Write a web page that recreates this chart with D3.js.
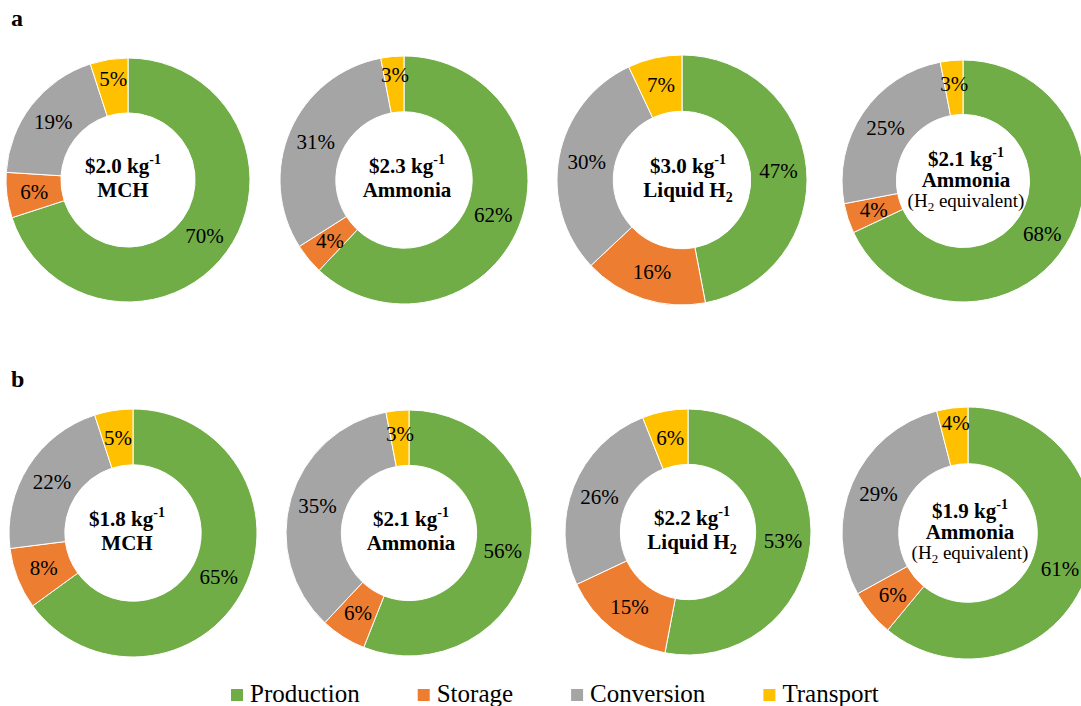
<!DOCTYPE html>
<html>
<head>
<meta charset="utf-8">
<script src="https://cdn.jsdelivr.net/npm/d3@7"></script>
<style>
  html, body { margin: 0; padding: 0; background: #fff; }
  svg { display: block; }
</style>
</head>
<body>
<svg id="chart" width="1081" height="706"></svg>
<script>
// ---- data ----
const categories = ["Production", "Storage", "Conversion", "Transport"];
const panelLabels = ["a", "b"];
const carriers = ["MCH", "Ammonia", "Liquid H2", "Ammonia"];
const costsA = ["$2.0", "$2.3", "$3.0", "$2.1"];
const costsB = ["$1.8", "$2.1", "$2.2", "$1.9"];
const sharesA = [
  [70, 6, 19, 5],
  [62, 4, 31, 3],
  [47, 16, 30, 7],
  [68, 4, 25, 3]
];
const sharesB = [
  [65, 8, 22, 5],
  [56, 6, 35, 3],
  [53, 15, 26, 6],
  [61, 6, 29, 4]
];

// ---- layout / style ----
const FONT = "Liberation Serif";
const colors = d3.scaleOrdinal().domain(categories)
  .range(["#70AD47", "#ED7D31", "#A5A5A5", "#FFC000"]);
const geomA = [
  {cx: 128, cy: 180, r: 122, tdx: -5, nudge: [0, 0, 0, -8]},
  {cx: 404, cy: 180, r: 124, tdx: 3, nudge: [0, 0, 0, -9]},
  {cx: 682, cy: 180, r: 125, tdx: 6, nudge: [0, 0, 0, 0]},
  {cx: 963, cy: 181, r: 121, tdx: 3, nudge: [3, 0, 0, -4]}
];
const geomB = [
  {cx: 133, cy: 533, r: 124, tdx: -6, nudge: [0, 0, 0, 0]},
  {cx: 409, cy: 533, r: 123, tdx: 2, nudge: [0, 0, 0, -4]},
  {cx: 688, cy: 532, r: 123, tdx: 4, nudge: [0, 0, 0, 0]},
  {cx: 968, cy: 533, r: 126, tdx: 2, nudge: [3, 0, 0, -13]}
];
const innerRatio = 0.55;

const svg = d3.select("#chart");

const pie = d3.pie().sort(null).value(d => d.v);

function drawDonut(shares, cost, carrier, g, isEquiv) {
  const data = shares.map((v, i) => ({cat: categories[i], v}));
  const arc = d3.arc().innerRadius(g.r * innerRatio).outerRadius(g.r);
  const grp = svg.append("g").attr("transform", `translate(${g.cx},${g.cy})`);
  const arcs = pie(data);
  grp.selectAll("path").data(arcs).join("path")
    .attr("d", arc)
    .attr("fill", d => colors(d.data.cat))
    .attr("stroke", "#fff")
    .attr("stroke-width", 1);
  grp.selectAll("text.lbl").data(arcs).join("text")
    .attr("class", "lbl")
    .attr("font-family", FONT)
    .attr("x", d => arc.centroid(d)[0])
    .attr("y", (d, i) => arc.centroid(d)[1] + g.nudge[i] + 7)
    .attr("text-anchor", "middle")
    .attr("font-size", 21)
    .attr("fill", "#000")
    .text(d => d.data.v + "%");

  // center text as one text element with line tspans
  const y1 = isEquiv ? -15 : -7;
  const y2 = isEquiv ? 6 : 17;
  const ct = grp.append("text")
    .attr("font-family", FONT)
    .attr("fill", "#000")
    .attr("text-anchor", "middle")
    .attr("font-size", 21)
    .attr("font-weight", "bold");
  ct.append("tspan").attr("x", g.tdx).attr("y", y1).text(cost + " kg");
  ct.append("tspan").attr("dy", -9).attr("font-size", 14).text("-1");
  if (carrier.endsWith("H2")) {
    ct.append("tspan").attr("x", g.tdx).attr("y", y2).text(carrier.slice(0, -1));
    ct.append("tspan").attr("dy", 5).attr("font-size", 14).text("2");
  } else {
    ct.append("tspan").attr("x", g.tdx).attr("y", y2).text(carrier);
  }
  if (isEquiv) {
    ct.append("tspan").attr("x", g.tdx).attr("y", 26)
      .attr("font-size", 19).attr("font-weight", "normal").text("(H");
    ct.append("tspan").attr("dy", 4).attr("font-size", 13)
      .attr("font-weight", "normal").text("2");
    ct.append("tspan").attr("dy", -4).attr("font-size", 19)
      .attr("font-weight", "normal").text(" equivalent)");
  }
}

sharesA.forEach((s, i) => drawDonut(s, costsA[i], carriers[i], geomA[i], i === 3));
sharesB.forEach((s, i) => drawDonut(s, costsB[i], carriers[i], geomB[i], i === 3));

// panel labels
svg.append("text").attr("font-family", FONT).attr("x", 11).attr("y", 26)
  .attr("font-size", 24).attr("font-weight", "bold").text(panelLabels[0]);
svg.append("text").attr("font-family", FONT).attr("x", 11).attr("y", 387)
  .attr("font-size", 24).attr("font-weight", "bold").text(panelLabels[1]);

// legend
const leg = svg.append("g");
let lx = 231;
categories.forEach(c => {
  leg.append("rect").attr("x", lx).attr("y", 689).attr("width", 12).attr("height", 12)
    .attr("fill", colors(c));
  const t = leg.append("text").attr("font-family", FONT).attr("x", lx + 19).attr("y", 702)
    .attr("font-size", 25).attr("fill", "#000").text(c);
  lx = lx + 19 + t.node().getComputedTextLength() + 58;
});
</script>
</body>
</html>
